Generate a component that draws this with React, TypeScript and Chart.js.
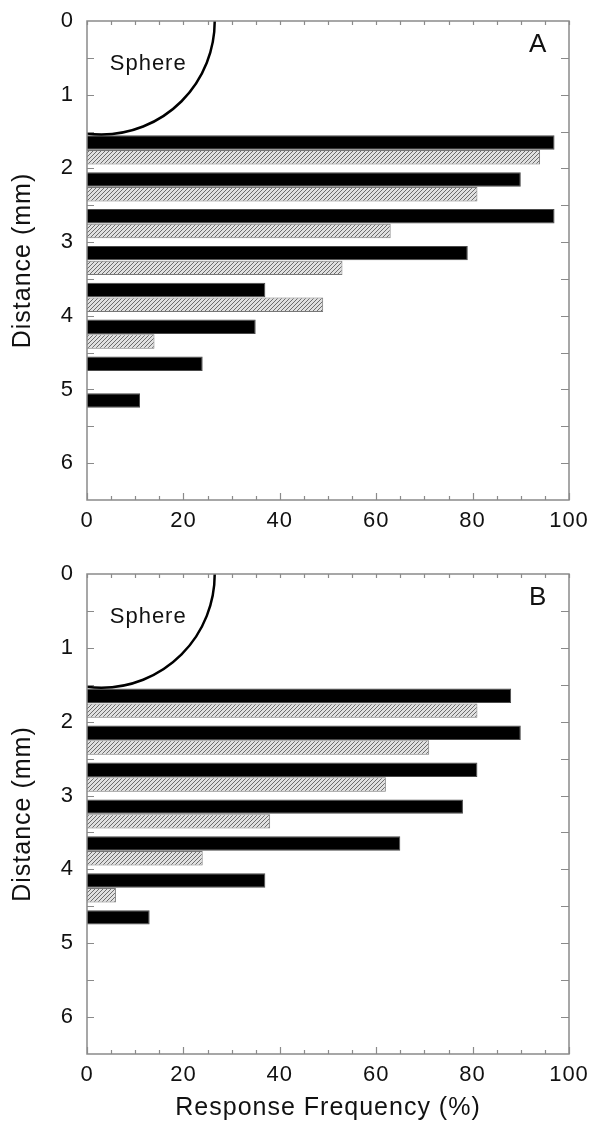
import React, { useEffect, useRef } from "react";
import { Chart, registerables } from "chart.js";

Chart.register(...registerables);

// ---------- data ----------
const distancesA = [1.75, 2.25, 2.75, 3.25, 3.75, 4.25, 4.75, 5.25];
const solidA = [97, 90, 97, 79, 37, 35, 24, 11];
const hatchedA = [94, 81, 63, 53, 49, 14];

const distancesB = [1.75, 2.25, 2.75, 3.25, 3.75, 4.25, 4.75];
const solidB = [88, 90, 81, 78, 65, 37, 13];
const hatchedB = [81, 71, 62, 38, 24, 6];

const xMin = 0;
const xMax = 100;
const xMajorStep = 20;
const xMinorStep = 5;
const yMin = 0;
const yMax = 6.5;
const yMajorStep = 1;
const yMinorStep = 0.5;

const xTitle = "Response Frequency (%)";
const yTitle = "Distance (mm)";
const sphereLabel = "Sphere";
const panelLabels = ["A", "B"];

// sphere outline (data units: % on x, mm on y)
const sphereCenter = [3, 0];
const sphereRadiusPct = 23.5;
const sphereRadiusMm = 1.54;
const sphereTextPos = [12.7, 0.58];
const panelLabelPos = [93.6, 0.32];

const FONT = "'Liberation Sans', Arial, Helvetica, sans-serif";
const AXIS_GRAY = "#8a8a8a";

function makeHatch(): CanvasPattern | string {
  const c = document.createElement("canvas");
  c.width = 4;
  c.height = 4;
  const g = c.getContext("2d");
  if (!g) return "#bbb";
  g.fillStyle = "#e0e0e0";
  g.fillRect(0, 0, 4, 4);
  g.strokeStyle = "#6c6c6c";
  g.lineWidth = 1;
  g.beginPath();
  g.moveTo(-1, 5);
  g.lineTo(5, -1);
  g.moveTo(-1, 1);
  g.lineTo(1, -1);
  g.moveTo(3, 5);
  g.lineTo(5, 3);
  g.stroke();
  const p = g.createPattern(c, "repeat");
  return p || "#bbb";
}

function framePlugin(panelLabel: string) {
  return {
    id: "frame" + panelLabel,
    beforeUpdate(chart: any) {
      try { chart.ctx.letterSpacing = "1px"; } catch (e) {}
    },
    beforeDraw(chart: any) {
      try { chart.ctx.letterSpacing = "1px"; } catch (e) {}
    },
    afterDraw(chart: any) {
      const { ctx, chartArea: a, scales } = chart;
      const xs = scales.x;
      const ys = scales.y;
      ctx.save();
      // sphere outline
      ctx.save();
      ctx.beginPath();
      ctx.rect(a.left, a.top, a.right - a.left, a.bottom - a.top);
      ctx.clip();
      const cx = xs.getPixelForValue(sphereCenter[0]);
      const cy = ys.getPixelForValue(sphereCenter[1]);
      const rx = Math.abs(xs.getPixelForValue(sphereCenter[0] + sphereRadiusPct) - cx);
      const ry = Math.abs(ys.getPixelForValue(sphereCenter[1] + sphereRadiusMm) - cy);
      ctx.beginPath();
      ctx.ellipse(cx, cy, rx, ry, 0, 0, Math.PI);
      ctx.lineWidth = 2.5;
      ctx.strokeStyle = "#000";
      ctx.stroke();
      ctx.restore();

      // frame
      ctx.strokeStyle = AXIS_GRAY;
      ctx.lineWidth = 1.5;
      ctx.strokeRect(a.left, a.top, a.right - a.left, a.bottom - a.top);

      // ticks (inward, mirrored)
      ctx.lineWidth = 1.2;
      ctx.beginPath();
      for (let v = xMin; v <= xMax + 1e-9; v += xMinorStep) {
        const px = Math.round(xs.getPixelForValue(v)) + 0.5;
        const major = Math.abs(v % xMajorStep) < 1e-9;
        ctx.moveTo(px, a.bottom);
        ctx.lineTo(px, a.bottom - (major ? 7 : 4));
        ctx.moveTo(px, a.top);
        ctx.lineTo(px, a.top + 4);
      }
      for (let v = yMin + yMinorStep; v < yMax - 1e-9; v += yMinorStep) {
        const py = Math.round(ys.getPixelForValue(v)) + 0.5;
        ctx.moveTo(a.left, py);
        ctx.lineTo(a.left + 7, py);
        ctx.moveTo(a.right, py);
        ctx.lineTo(a.right - 8, py);
      }
      ctx.stroke();

      // texts
      ctx.fillStyle = "#111";
      ctx.textAlign = "center";
      ctx.textBaseline = "middle";
      ctx.font = `22px ${FONT}`;
      ctx.fillText(sphereLabel, xs.getPixelForValue(sphereTextPos[0]), ys.getPixelForValue(sphereTextPos[1]));
      ctx.font = `26px ${FONT}`;
      ctx.fillText(panelLabel, xs.getPixelForValue(panelLabelPos[0]), ys.getPixelForValue(panelLabelPos[1]));
      ctx.restore();
    },
  };
}

function makeConfig(
  distances: number[],
  solid: number[],
  hatched: number[],
  panelLabel: string,
  showXTitle: boolean,
  plotTop: number,
  xAxisHeight: number
): any {
  const hatch = makeHatch();
  return {
    type: "bar",
    data: {
      datasets: [
        {
          label: "solid",
          data: distances.map((d, i) => ({ x: solid[i], y: d })),
          backgroundColor: "#000",
          borderColor: "#4a4a4a",
          borderWidth: 1,
          categoryPercentage: 0.8,
          barPercentage: 0.98,
        },
        {
          label: "hatched",
          data: hatched.map((v, i) => ({ x: v, y: distances[i] })),
          backgroundColor: hatch,
          borderColor: "#777777",
          borderWidth: 1,
          categoryPercentage: 0.8,
          barPercentage: 0.98,
        },
      ],
    },
    options: {
      indexAxis: "y",
      animation: false,
      responsive: true,
      maintainAspectRatio: false,
      layout: { padding: { top: plotTop, left: 0, right: 20, bottom: 0 } },
      plugins: { legend: { display: false }, tooltip: { enabled: false } },
      scales: {
        x: {
          type: "linear",
          position: "bottom",
          min: xMin,
          max: xMax,
          grid: { display: false, drawTicks: false },
          border: { display: false },
          ticks: {
            stepSize: xMajorStep,
            padding: 8,
            color: "#111",
            font: { size: 22, family: FONT },
            maxRotation: 0,
          },
          title: {
            display: showXTitle,
            text: xTitle,
            color: "#111",
            font: { size: 25, family: FONT },
            padding: { top: 0, bottom: 0 },
          },
          afterFit: (scale: any) => {
            scale.height = xAxisHeight;
            scale.paddingLeft = 0;
            scale.paddingRight = 0;
          },
        },
        y: {
          type: "linear",
          position: "left",
          reverse: true,
          offset: false,
          min: yMin,
          max: yMax,
          grid: { display: false, drawTicks: false, offset: false },
          border: { display: false },
          ticks: {
            stepSize: yMajorStep,
            includeBounds: false,
            padding: 13,
            color: "#111",
            font: { size: 22, family: FONT },
          },
          title: {
            display: true,
            text: yTitle,
            color: "#111",
            font: { size: 25, family: FONT },
            padding: { top: 8, bottom: 0 },
          },
          afterFit: (scale: any) => {
            scale.width = 87;
            scale.paddingTop = 0;
            scale.paddingBottom = 0;
          },
        },
      },
    },
    plugins: [framePlugin(panelLabel)],
  };
}

function Panel(props: {
  top: number;
  height: number;
  distances: number[];
  solid: number[];
  hatched: number[];
  label: string;
  showXTitle: boolean;
  plotTop: number;
  xAxisHeight: number;
}) {
  const ref = useRef<HTMLCanvasElement | null>(null);
  useEffect(() => {
    if (!ref.current) return;
    const chart = new Chart(
      ref.current,
      makeConfig(
        props.distances,
        props.solid,
        props.hatched,
        props.label,
        props.showXTitle,
        props.plotTop,
        props.xAxisHeight
      )
    );
    return () => chart.destroy();
  }, []);
  return (
    <div
      style={{
        position: "absolute",
        left: 0,
        top: props.top,
        width: 589,
        height: props.height,
      }}
    >
      <canvas ref={ref} />
    </div>
  );
}

export default function App() {
  return (
    <div
      style={{
        position: "absolute",
        left: 0,
        top: 0,
        width: 589,
        height: 1123,
        background: "#fff",
        overflow: "hidden",
      }}
    >
      <Panel
        top={0}
        height={548}
        distances={distancesA}
        solid={solidA}
        hatched={hatchedA}
        label={panelLabels[0]}
        showXTitle={false}
        plotTop={21}
        xAxisHeight={48}
      />
      <Panel
        top={548}
        height={575}
        distances={distancesB}
        solid={solidB}
        hatched={hatchedB}
        label={panelLabels[1]}
        showXTitle={true}
        plotTop={26}
        xAxisHeight={69}
      />
    </div>
  );
}
